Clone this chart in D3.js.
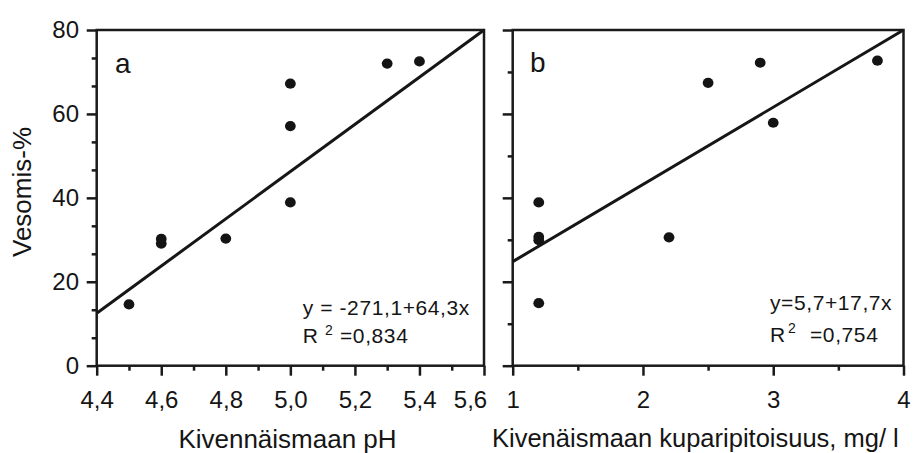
<!DOCTYPE html>
<html>
<head>
<meta charset="utf-8" />
<title>Vesomis-% vs kivennäismaa</title>
<script src="https://d3js.org/d3.v7.min.js"></script>
<style>
  body { margin: 0; background: #fff; }
  svg { display: block; font-family: "Liberation Sans", Arial, Helvetica, sans-serif; }
  .tick line { stroke: #1a1a1a; stroke-width: 2.5px; }
  .tick text { fill: #151515; font-size: 24px; font-family: "Liberation Sans", Arial, Helvetica, sans-serif; }
  .frame { fill: none; stroke: #1a1a1a; stroke-width: 2.5px; }
  .fit { fill: none; stroke: #161616; stroke-width: 3px; }
  .dot { fill: #141414; }
  .lbl { fill: #151515; }
</style>
</head>
<body>
<svg id="chart" width="922" height="453"></svg>
<script>
// ---- data ----
var phX = [4.5, 4.6, 4.6, 4.8, 5.0, 5.0, 5.0, 5.3, 5.4];
var phY = [14.6, 30.2, 29.1, 30.3, 67.2, 57.1, 38.9, 72.0, 72.5];
var cuX = [1.2, 1.2, 1.2, 1.2, 2.2, 2.5, 2.9, 3.0, 3.8];
var cuY = [38.9, 30.7, 29.9, 14.9, 30.6, 67.4, 72.2, 57.9, 72.7];

// fitted lines as drawn (end points)
var phFit = [[4.4, 12.5], [5.6, 80]];
var cuFit = [[1, 24.8], [4, 80]];

var yTicks = [0, 20, 40, 60, 80];
var phTicks = [4.4, 4.6, 4.8, 5.0, 5.2, 5.4, 5.6];
var phTickLabels = ["4,4", "4,6", "4,8", "5,0", "5,2", "5,4", "5,6"];
var cuTicks = [1, 2, 3, 4];
var cuTickLabels = ["1", "2", "3", "4"];

var yTitle = "Vesomis-%";
var phTitle = "Kivennäismaan pH";
var cuTitle = "Kivenäismaan kuparipitoisuus, mg/ l";
var phEq = "y = -271,1+64,3x", phR2 = "=0,834";
var cuEq = "y=5,7+17,7x", cuR2 = "=0,754";

// ---- layout ----
var svg = d3.select("#chart");
var plotTop = 30, plotBottom = 365.7;

var y = d3.scaleLinear().domain([0, 80]).range([plotBottom, plotTop]);

var panels = [
  { name: "a", left: 96.7, right: 484, dom: [4.4, 5.6], xs: phX, ys: phY, fit: phFit,
    ticks: phTicks, labels: phTickLabels, minorX: [4.5, 4.7, 4.9, 5.1, 5.3, 5.5],
    minorY: [20 / 3, 40 / 3, 80 / 3, 100 / 3, 140 / 3, 160 / 3, 200 / 3, 220 / 3],
    showY: true, eq: phEq, r2: phR2,
    eqPos: [206, 285], rPos: [206, 313.3], supDx: 22.3, r2Dx: 37.3, tagPos: [18.3, 42.7] },
  { name: "b", left: 512.7, right: 903.5, dom: [1, 4], xs: cuX, ys: cuY, fit: cuFit,
    ticks: cuTicks, labels: cuTickLabels, minorX: [1.5, 2.5, 3.5],
    minorY: [10, 30, 50, 70],
    showY: false, eq: cuEq, r2: cuR2,
    eqPos: [257.3, 280], rPos: [257.3, 311.7], supDx: 18, r2Dx: 40, tagPos: [17.3, 41.7] }
];

panels.forEach(function(p) {
  var x = d3.scaleLinear().domain(p.dom).range([p.left, p.right]);
  var g = svg.append("g");

  // minor ticks
  g.append("g")
    .attr("transform", "translate(0," + plotBottom + ")")
    .call(d3.axisBottom(x).tickValues(p.minorX).tickSize(5).tickFormat(""))
    .call(function(s) { s.select(".domain").remove(); });
  g.append("g")
    .attr("transform", "translate(" + p.left + ",0)")
    .call(d3.axisLeft(y).tickValues(p.minorY).tickSize(5).tickFormat(""))
    .call(function(s) { s.select(".domain").remove(); });

  // major ticks
  var xa = g.append("g")
    .attr("transform", "translate(0," + plotBottom + ")")
    .call(d3.axisBottom(x).tickValues(p.ticks).tickSize(10).tickPadding(15.3)
      .tickFormat(function(d, i) { return p.labels[i]; }))
    .call(function(s) { s.select(".domain").remove(); });
  if (p.name === "a") {
    // last label pulled in so it clears panel b
    xa.selectAll(".tick text").filter(function(d, i, n) { return i === n.length - 1; }).attr("dx", -14);
  }
  g.append("g")
    .attr("transform", "translate(" + p.left + ",0)")
    .call(d3.axisLeft(y).tickValues(yTicks).tickSize(10).tickPadding(7.7)
      .tickFormat(p.showY ? d3.format("d") : ""))
    .call(function(s) { s.select(".domain").remove(); });

  // frame
  g.append("rect").attr("class", "frame")
    .attr("x", p.left).attr("y", plotTop)
    .attr("width", p.right - p.left).attr("height", plotBottom - plotTop);

  // fitted line
  var line = d3.line().x(function(d) { return x(d[0]); }).y(function(d) { return y(d[1]); });
  g.append("path").attr("class", "fit").attr("d", line(p.fit));

  // points
  g.selectAll(".dot").data(d3.zip(p.xs, p.ys)).enter()
    .append("ellipse").attr("class", "dot")
    .attr("cx", function(d) { return x(d[0]); })
    .attr("cy", function(d) { return y(d[1]); })
    .attr("rx", 5.4).attr("ry", 5.1);

  // panel tag
  g.append("text").attr("class", "lbl")
    .attr("x", p.left + p.tagPos[0]).attr("y", plotTop + p.tagPos[1])
    .style("font-size", "28px").text(p.name);

  // equation
  g.append("text").attr("class", "lbl")
    .attr("x", p.left + p.eqPos[0]).attr("y", plotTop + p.eqPos[1])
    .style("font-size", "21px").style("letter-spacing", "0.6px").text(p.eq);
  var r = g.append("text").attr("class", "lbl")
    .attr("x", p.left + p.rPos[0]).attr("y", plotTop + p.rPos[1])
    .style("font-size", "21px").style("letter-spacing", "0.6px");
  r.append("tspan").text("R");
  r.append("tspan").attr("x", p.left + p.rPos[0] + p.supDx).attr("dy", -8.5)
    .style("font-size", "14px").text("2");
  r.append("tspan").attr("x", p.left + p.rPos[0] + p.r2Dx).attr("dy", 8.5).text(p.r2);
});

// axis titles
svg.append("text").attr("class", "lbl")
  .attr("transform", "translate(31,192) rotate(-90)")
  .attr("text-anchor", "middle")
  .style("font-size", "26px").text(yTitle);

svg.append("text").attr("class", "lbl")
  .attr("x", 287.5).attr("y", 448).attr("text-anchor", "middle")
  .style("font-size", "26px").text(phTitle);

svg.append("text").attr("class", "lbl")
  .attr("x", 492).attr("y", 447)
  .style("font-size", "25.5px").text(cuTitle);
</script>
</body>
</html>
